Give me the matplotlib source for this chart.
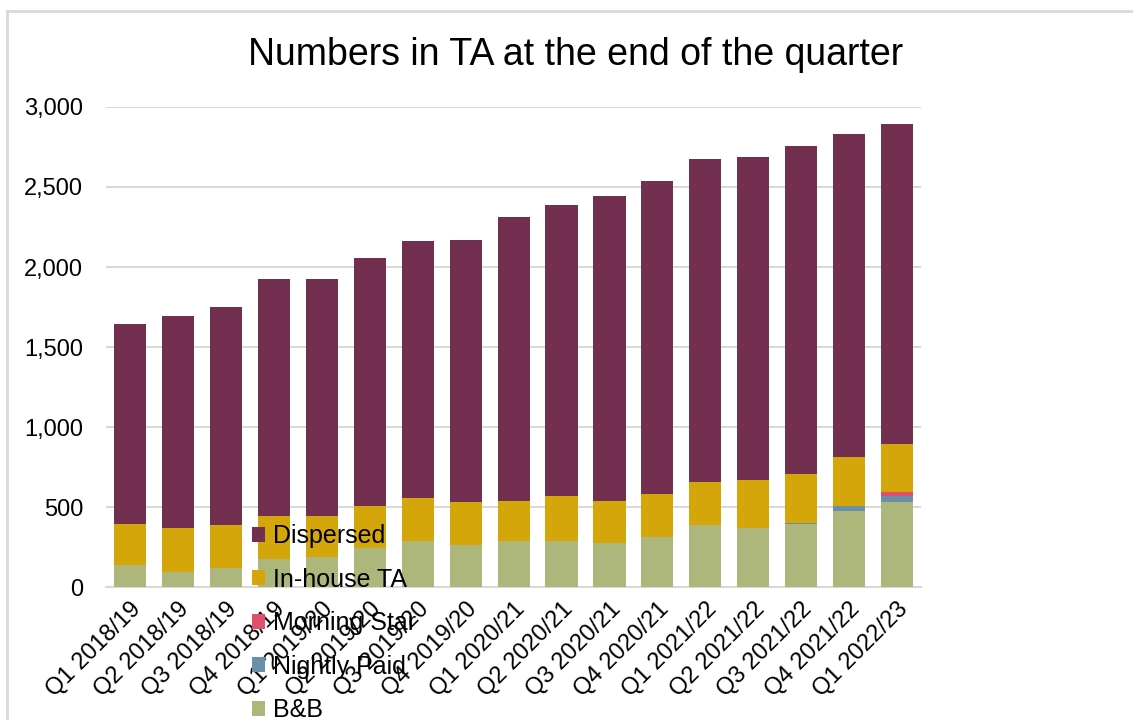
import numpy as np
import matplotlib
matplotlib.use("Agg")
import matplotlib.pyplot as plt
from matplotlib.lines import Line2D
from matplotlib.ticker import FuncFormatter

quarters = ["Q1 2018/19", "Q2 2018/19", "Q3 2018/19", "Q4 2018/19",
            "Q1 2019/20", "Q2 2019/20", "Q3 2019/20", "Q4 2019/20",
            "Q1 2020/21", "Q2 2020/21", "Q3 2020/21", "Q4 2020/21",
            "Q1 2021/22", "Q2 2021/22", "Q3 2021/22", "Q4 2021/22",
            "Q1 2022/23"]

bnb = [137, 94, 119, 175, 187, 244, 287, 262, 285, 287, 275, 312,
       387, 369, 394, 475, 531]
nightly_paid = [0, 0, 0, 0, 0, 0, 0, 0, 0, 0, 0, 0, 0, 0, 6, 31, 38]
morning_star = [0, 0, 0, 0, 0, 0, 0, 0, 0, 0, 0, 0, 0, 0, 0, 0, 25]
inhouse = [257, 275, 268, 269, 257, 262, 269, 269, 252, 282, 262, 269,
           269, 300, 306, 306, 300]
dispersed = [1250, 1325, 1363, 1481, 1481, 1550, 1606, 1638, 1775, 1818,
             1907, 1956, 2019, 2018, 2050, 2019, 2000]

colors = {
    "B&B": "#adb77c",
    "Nightly Paid": "#6a8fa8",
    "Morning Star": "#e0506a",
    "In-house TA": "#d4a60a",
    "Dispersed": "#722f50",
}

plt.rcParams["font.family"] = ["Liberation Sans", "DejaVu Sans"]

fig = plt.figure(figsize=(11.33, 7.2), dpi=100)
ax = fig.add_axes([0.0936, 0.1847, 0.7194, 0.6667])

x = np.arange(len(quarters))
series = [("B&B", bnb), ("Nightly Paid", nightly_paid),
          ("Morning Star", morning_star), ("In-house TA", inhouse),
          ("Dispersed", dispersed)]
bottom = np.zeros(len(quarters))
handles = {}
for name, vals in series:
    vals = np.array(vals, dtype=float)
    b = ax.bar(x, vals, 0.67, bottom=bottom, color=colors[name], label=name, zorder=3)
    handles[name] = b
    bottom += vals

ax.set_xlim(-0.5, len(quarters) - 0.5)
ax.set_ylim(0, 3000)
ax.set_yticks(np.arange(0, 3001, 500))
ax.yaxis.set_major_formatter(FuncFormatter(lambda v, p: f"{int(v):,}"))
ax.grid(axis="y", color="#d9d9d9", linewidth=1.5, zorder=0)
for s in ["top", "right", "left"]:
    ax.spines[s].set_visible(False)
ax.spines["bottom"].set_color("#d9d9d9")
ax.spines["bottom"].set_linewidth(1.5)
ax.tick_params(axis="both", length=0, labelsize=17, colors="#000000")
ax.tick_params(axis="y", pad=16.5)
ax.set_xticks(x)
ax.set_xticklabels(quarters, rotation=45, ha="right", rotation_mode="anchor")
ax.tick_params(axis="x", pad=8)

fig.text(0.508, 0.924, "Numbers in TA at the end of the quarter",
         ha="center", va="center", fontsize=27)

order = ["Dispersed", "In-house TA", "Morning Star", "Nightly Paid", "B&B"]
fig.legend([handles[n] for n in order], order, loc="upper left",
           bbox_to_anchor=(0.222, 0.272), frameon=False, fontsize=18,
           handlelength=0.55, handleheight=0.55, handletextpad=0.3,
           labelspacing=0.78, borderpad=0, borderaxespad=0)

fig.add_artist(Line2D([0.0062, 1.0], [0.9847, 0.9847], color="#d9d9d9",
                      linewidth=2, transform=fig.transFigure))
fig.add_artist(Line2D([0.0062, 0.0062], [0.0, 0.9847], color="#d9d9d9",
                      linewidth=2, transform=fig.transFigure))

fig.savefig("out.png", dpi=100)
